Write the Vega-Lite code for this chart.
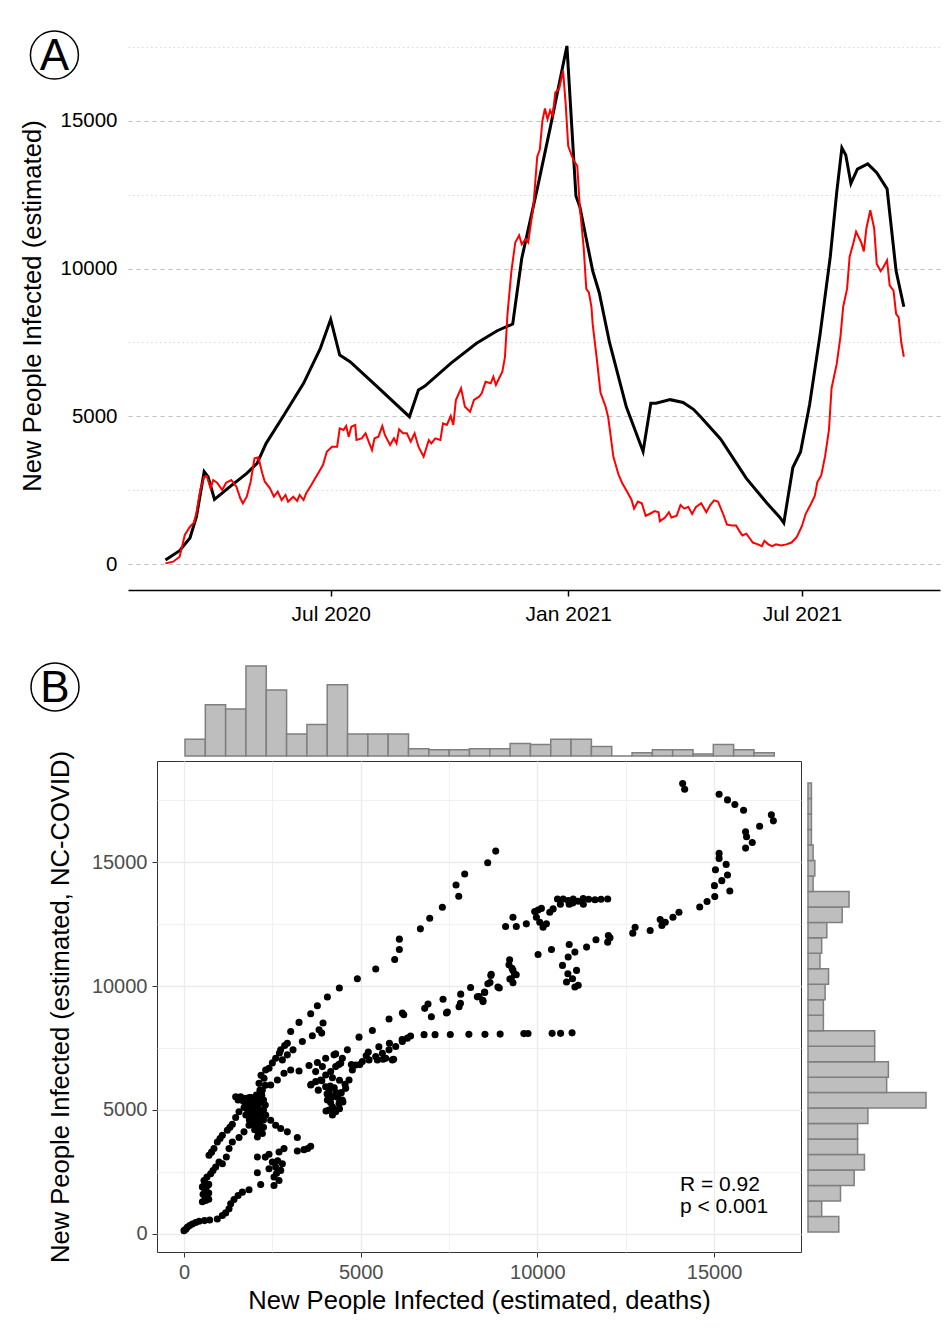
{
"$schema": "https://vega.github.io/schema/vega-lite/v6.json",
"background": "white",
"padding": {"left": 20, "top": 21, "right": 2, "bottom": 5},
"config": {
  "font": "Liberation Sans",
  "view": {"stroke": null},
  "axis": {"labelFont": "Liberation Sans", "titleFont": "Liberation Sans", "titleFontWeight": "normal"}
},
"datasets": {
"nc_ts": [
{"date":"2020-02-24","value":135},{"date":"2020-03-06","value":450},{"date":"2020-03-14","value":880},{"date":"2020-03-19","value":1600},{"date":"2020-03-25","value":3125},{"date":"2020-03-28","value":2955},{"date":"2020-04-02","value":2190},{"date":"2020-04-14","value":2617},{"date":"2020-04-27","value":3070},{"date":"2020-05-05","value":3410},{"date":"2020-05-12","value":4085},{"date":"2020-05-25","value":4986},{"date":"2020-06-10","value":6117},{"date":"2020-06-23","value":7300},{"date":"2020-07-01","value":8283},{"date":"2020-07-08","value":7075},{"date":"2020-07-16","value":6848},{"date":"2020-08-06","value":6002},{"date":"2020-08-31","value":4986},{"date":"2020-09-07","value":5890},{"date":"2020-09-12","value":6025},{"date":"2020-10-02","value":6794},{"date":"2020-10-22","value":7471},{"date":"2020-11-07","value":7897},{"date":"2020-11-19","value":8124},{"date":"2020-11-26","value":10340},{"date":"2020-12-08","value":12700},{"date":"2020-12-18","value":14755},{"date":"2020-12-31","value":17536},{"date":"2021-01-07","value":12457},{"date":"2021-01-10","value":12094},{"date":"2021-01-20","value":9917},{"date":"2021-01-25","value":9191},{"date":"2021-02-02","value":7498},{"date":"2021-02-15","value":5321},{"date":"2021-02-28","value":3810},{"date":"2021-03-06","value":5442},{"date":"2021-03-10","value":5442},{"date":"2021-03-21","value":5563},{"date":"2021-03-31","value":5466},{"date":"2021-04-08","value":5236},{"date":"2021-04-13","value":5010},{"date":"2021-04-29","value":4235},{"date":"2021-05-19","value":2900},{"date":"2021-06-04","value":2056},{"date":"2021-06-14","value":1576},{"date":"2021-06-17","value":1391},{"date":"2021-06-24","value":3265},{"date":"2021-06-30","value":3800},{"date":"2021-07-07","value":5400},{"date":"2021-07-15","value":7740},{"date":"2021-07-23","value":10401},{"date":"2021-07-28","value":12578},{"date":"2021-08-01","value":14089},{"date":"2021-08-04","value":13848},{"date":"2021-08-08","value":12880},{"date":"2021-08-13","value":13364},{"date":"2021-08-21","value":13545},{"date":"2021-08-28","value":13243},{"date":"2021-09-05","value":12699},{"date":"2021-09-12","value":9917},{"date":"2021-09-18","value":8708}
],
"deaths_ts": [
{"date":"2020-02-24","value":22},{"date":"2020-03-01","value":79},{"date":"2020-03-06","value":248},{"date":"2020-03-10","value":982},{"date":"2020-03-14","value":1263},{"date":"2020-03-17","value":1398},{"date":"2020-03-19","value":1715},{"date":"2020-03-22","value":2505},{"date":"2020-03-25","value":2955},{"date":"2020-03-27","value":2979},{"date":"2020-03-30","value":2562},{"date":"2020-04-01","value":2843},{"date":"2020-04-04","value":2753},{"date":"2020-04-08","value":2505},{"date":"2020-04-11","value":2753},{"date":"2020-04-15","value":2843},{"date":"2020-04-19","value":2617},{"date":"2020-04-22","value":2223},{"date":"2020-04-24","value":2054},{"date":"2020-04-27","value":2279},{"date":"2020-04-30","value":2786},{"date":"2020-05-03","value":3578},{"date":"2020-05-06","value":3612},{"date":"2020-05-09","value":3070},{"date":"2020-05-11","value":2786},{"date":"2020-05-15","value":2562},{"date":"2020-05-18","value":2279},{"date":"2020-05-21","value":2448},{"date":"2020-05-24","value":2166},{"date":"2020-05-27","value":2336},{"date":"2020-05-29","value":2110},{"date":"2020-06-02","value":2279},{"date":"2020-06-05","value":2133},{"date":"2020-06-07","value":2336},{"date":"2020-06-10","value":2166},{"date":"2020-06-12","value":2393},{"date":"2020-06-16","value":2674},{"date":"2020-06-19","value":2900},{"date":"2020-06-22","value":3125},{"date":"2020-06-25","value":3351},{"date":"2020-06-28","value":3801},{"date":"2020-07-02","value":3971},{"date":"2020-07-06","value":3971},{"date":"2020-07-08","value":4593},{"date":"2020-07-11","value":4536},{"date":"2020-07-13","value":4671},{"date":"2020-07-15","value":4310},{"date":"2020-07-17","value":4649},{"date":"2020-07-20","value":4705},{"date":"2020-07-21","value":4197},{"date":"2020-07-25","value":4254},{"date":"2020-07-28","value":4424},{"date":"2020-07-30","value":4197},{"date":"2020-08-02","value":3859},{"date":"2020-08-04","value":4254},{"date":"2020-08-07","value":4310},{"date":"2020-08-10","value":4671},{"date":"2020-08-12","value":4367},{"date":"2020-08-16","value":4028},{"date":"2020-08-19","value":4254},{"date":"2020-08-21","value":4085},{"date":"2020-08-23","value":4559},{"date":"2020-08-26","value":4424},{"date":"2020-08-29","value":4424},{"date":"2020-09-01","value":4140},{"date":"2020-09-04","value":4424},{"date":"2020-09-07","value":3971},{"date":"2020-09-11","value":3632},{"date":"2020-09-15","value":4197},{"date":"2020-09-17","value":4085},{"date":"2020-09-20","value":4254},{"date":"2020-09-24","value":4197},{"date":"2020-09-26","value":4762},{"date":"2020-09-29","value":4705},{"date":"2020-10-02","value":5010},{"date":"2020-10-04","value":4705},{"date":"2020-10-06","value":5551},{"date":"2020-10-10","value":5947},{"date":"2020-10-13","value":5325},{"date":"2020-10-17","value":5155},{"date":"2020-10-20","value":5551},{"date":"2020-10-24","value":5663},{"date":"2020-10-26","value":5778},{"date":"2020-10-29","value":6171},{"date":"2020-11-02","value":6117},{"date":"2020-11-04","value":6340},{"date":"2020-11-06","value":6059},{"date":"2020-11-09","value":6340},{"date":"2020-11-11","value":6509},{"date":"2020-11-13","value":7000},{"date":"2020-11-15","value":8486},{"date":"2020-11-18","value":9917},{"date":"2020-11-21","value":10885},{"date":"2020-11-24","value":11127},{"date":"2020-11-26","value":10824},{"date":"2020-11-29","value":11006},{"date":"2020-12-01","value":10885},{"date":"2020-12-05","value":12094},{"date":"2020-12-08","value":13787},{"date":"2020-12-10","value":14029},{"date":"2020-12-12","value":14997},{"date":"2020-12-14","value":15420},{"date":"2020-12-16","value":15057},{"date":"2020-12-18","value":15360},{"date":"2020-12-20","value":15178},{"date":"2020-12-22","value":15964},{"date":"2020-12-25","value":16085},{"date":"2020-12-28","value":16700},{"date":"2020-12-30","value":15600},{"date":"2021-01-01","value":14150},{"date":"2021-01-04","value":13787},{"date":"2021-01-06","value":13606},{"date":"2021-01-08","value":13480},{"date":"2021-01-10","value":12094},{"date":"2021-01-13","value":10700},{"date":"2021-01-15","value":9312},{"date":"2021-01-17","value":9191},{"date":"2021-01-19","value":8708},{"date":"2021-01-20","value":8103},{"date":"2021-01-23","value":7000},{"date":"2021-01-26","value":5805},{"date":"2021-01-30","value":5321},{"date":"2021-02-01","value":4959},{"date":"2021-02-05","value":3628},{"date":"2021-02-09","value":3024},{"date":"2021-02-12","value":2721},{"date":"2021-02-16","value":2419},{"date":"2021-02-19","value":2177},{"date":"2021-02-21","value":1875},{"date":"2021-02-24","value":2116},{"date":"2021-02-27","value":2056},{"date":"2021-03-02","value":1633},{"date":"2021-03-05","value":1693},{"date":"2021-03-09","value":1790},{"date":"2021-03-12","value":1754},{"date":"2021-03-13","value":1451},{"date":"2021-03-17","value":1572},{"date":"2021-03-20","value":1754},{"date":"2021-03-22","value":1572},{"date":"2021-03-26","value":1633},{"date":"2021-03-29","value":1996},{"date":"2021-04-01","value":1875},{"date":"2021-04-04","value":1935},{"date":"2021-04-07","value":1693},{"date":"2021-04-10","value":1935},{"date":"2021-04-14","value":2056},{"date":"2021-04-18","value":1754},{"date":"2021-04-21","value":1996},{"date":"2021-04-24","value":2153},{"date":"2021-04-27","value":2116},{"date":"2021-05-01","value":1693},{"date":"2021-05-04","value":1330},{"date":"2021-05-08","value":1306},{"date":"2021-05-11","value":1306},{"date":"2021-05-14","value":1088},{"date":"2021-05-16","value":968},{"date":"2021-05-19","value":1028},{"date":"2021-05-22","value":847},{"date":"2021-05-24","value":726},{"date":"2021-05-28","value":665},{"date":"2021-05-31","value":605},{"date":"2021-06-02","value":786},{"date":"2021-06-05","value":665},{"date":"2021-06-08","value":605},{"date":"2021-06-11","value":665},{"date":"2021-06-15","value":629},{"date":"2021-06-19","value":665},{"date":"2021-06-23","value":726},{"date":"2021-06-27","value":907},{"date":"2021-07-01","value":1280},{"date":"2021-07-04","value":1700},{"date":"2021-07-08","value":2030},{"date":"2021-07-11","value":2300},{"date":"2021-07-13","value":2770},{"date":"2021-07-16","value":3000},{"date":"2021-07-19","value":3650},{"date":"2021-07-22","value":4550},{"date":"2021-07-24","value":5950},{"date":"2021-07-28","value":6773},{"date":"2021-07-31","value":7740},{"date":"2021-08-02","value":8708},{"date":"2021-08-05","value":9312},{"date":"2021-08-07","value":10401},{"date":"2021-08-10","value":10885},{"date":"2021-08-12","value":11248},{"date":"2021-08-14","value":11066},{"date":"2021-08-16","value":10885},{"date":"2021-08-18","value":10582},{"date":"2021-08-20","value":11368},{"date":"2021-08-23","value":11973},{"date":"2021-08-26","value":11368},{"date":"2021-08-28","value":10159},{"date":"2021-08-31","value":9917},{"date":"2021-09-02","value":10038},{"date":"2021-09-05","value":10280},{"date":"2021-09-07","value":9433},{"date":"2021-09-10","value":9252},{"date":"2021-09-12","value":8466},{"date":"2021-09-14","value":8345},{"date":"2021-09-16","value":7498},{"date":"2021-09-18","value":7014}
],
"pts": [
{"deaths":0,"nccovid":135},{"deaths":50,"nccovid":190},{"deaths":94,"nccovid":270},{"deaths":160,"nccovid":340},{"deaths":236,"nccovid":405},{"deaths":330,"nccovid":460},{"deaths":425,"nccovid":513},{"deaths":580,"nccovid":540},{"deaths":726,"nccovid":567},{"deaths":943,"nccovid":608},{"deaths":1085,"nccovid":743},{"deaths":1179,"nccovid":851},{"deaths":1274,"nccovid":1013},{"deaths":1321,"nccovid":1215},{"deaths":1415,"nccovid":1391},{"deaths":1530,"nccovid":1550},{"deaths":1651,"nccovid":1688},{"deaths":1840,"nccovid":1782},{"deaths":2170,"nccovid":1998},{"deaths":2075,"nccovid":2471},
{"deaths":613,"nccovid":1350},{"deaths":600,"nccovid":1450},{"deaths":613,"nccovid":1553},{"deaths":594,"nccovid":1755},{"deaths":620,"nccovid":1850},{"deaths":660,"nccovid":1958},{"deaths":566,"nccovid":2160},{"deaths":650,"nccovid":2300},{"deaths":755,"nccovid":2430},{"deaths":820,"nccovid":2560},{"deaths":896,"nccovid":2700},{"deaths":991,"nccovid":2903},{"deaths":708,"nccovid":3173},{"deaths":780,"nccovid":3300},{"deaths":849,"nccovid":3443},{"deaths":943,"nccovid":3713},{"deaths":1020,"nccovid":3850},{"deaths":1085,"nccovid":3983},{"deaths":1226,"nccovid":4185},{"deaths":1300,"nccovid":4300},{"deaths":1368,"nccovid":4428},{"deaths":1462,"nccovid":4698},{"deaths":1557,"nccovid":4928},{"deaths":1085,"nccovid":2835},{"deaths":1198,"nccovid":3105},{"deaths":1274,"nccovid":3443},{"deaths":1368,"nccovid":3713},{"deaths":1557,"nccovid":3888},{"deaths":1698,"nccovid":4118},{"deaths":1840,"nccovid":4388},{"deaths":1981,"nccovid":4590},{"deaths":1462,"nccovid":5535},{"deaths":1604,"nccovid":5535},{"deaths":1745,"nccovid":5468},{"deaths":1530,"nccovid":5400},{"deaths":1680,"nccovid":5350},
{"deaths":520,"nccovid":1300},{"deaths":700,"nccovid":1400},{"deaths":540,"nccovid":1600},{"deaths":700,"nccovid":1650},{"deaths":520,"nccovid":1900},{"deaths":700,"nccovid":2000},{"deaths":600,"nccovid":2050},
{"deaths":1840,"nccovid":5265},{"deaths":2028,"nccovid":5265},{"deaths":2123,"nccovid":5400},{"deaths":1934,"nccovid":4860},{"deaths":2075,"nccovid":4725},{"deaths":1887,"nccovid":5130},{"deaths":2170,"nccovid":4995},{"deaths":1981,"nccovid":4995},{"deaths":2217,"nccovid":5805},{"deaths":2123,"nccovid":6075},{"deaths":2264,"nccovid":6278},{"deaths":2311,"nccovid":6615},{"deaths":2406,"nccovid":6683},{"deaths":2123,"nccovid":4320},{"deaths":2217,"nccovid":4050},{"deaths":2075,"nccovid":3915},{"deaths":2311,"nccovid":4793},{"deaths":1900,"nccovid":4700},{"deaths":2000,"nccovid":5100},{"deaths":2100,"nccovid":5200},{"deaths":2200,"nccovid":5600},{"deaths":1800,"nccovid":5000},{"deaths":2050,"nccovid":5600},{"deaths":2150,"nccovid":5800},{"deaths":2250,"nccovid":5000},{"deaths":1950,"nccovid":5400},{"deaths":2000,"nccovid":4400},{"deaths":2150,"nccovid":4500},{"deaths":2250,"nccovid":4300},{"deaths":1750,"nccovid":4800},{"deaths":2180,"nccovid":6400},{"deaths":2300,"nccovid":6000},{"deaths":2200,"nccovid":4800},{"deaths":1900,"nccovid":5500},{"deaths":2100,"nccovid":4900},
{"deaths":1700,"nccovid":5100},{"deaths":1750,"nccovid":5300},{"deaths":1850,"nccovid":5500},{"deaths":1950,"nccovid":5200},{"deaths":2050,"nccovid":4600},{"deaths":2150,"nccovid":5300},{"deaths":2250,"nccovid":5400},{"deaths":2300,"nccovid":5200},{"deaths":1850,"nccovid":4600},{"deaths":2000,"nccovid":4200},{"deaths":2100,"nccovid":4100},{"deaths":1800,"nccovid":5400},{"deaths":2250,"nccovid":4600},{"deaths":2050,"nccovid":5000},{"deaths":1950,"nccovid":4500},
{"deaths":2453,"nccovid":4590},{"deaths":2594,"nccovid":4388},{"deaths":2736,"nccovid":4253},{"deaths":2924,"nccovid":4118},{"deaths":3207,"nccovid":3888},
{"deaths":2075,"nccovid":3105},{"deaths":2406,"nccovid":3213},{"deaths":2689,"nccovid":3308},{"deaths":2830,"nccovid":3443},{"deaths":3207,"nccovid":3348},{"deaths":3396,"nccovid":3402},{"deaths":3585,"nccovid":3537},{"deaths":3500,"nccovid":3450},{"deaths":2500,"nccovid":2903},{"deaths":2594,"nccovid":2700},{"deaths":2736,"nccovid":2565},{"deaths":2783,"nccovid":2835},{"deaths":2406,"nccovid":2633},{"deaths":2547,"nccovid":2295},{"deaths":2689,"nccovid":2160},{"deaths":2547,"nccovid":1958},{"deaths":2300,"nccovid":3100},{"deaths":2650,"nccovid":2950},{"deaths":2620,"nccovid":2450},
{"deaths":2594,"nccovid":7088},{"deaths":2736,"nccovid":7425},{"deaths":2924,"nccovid":7695},{"deaths":3019,"nccovid":8168},{"deaths":3255,"nccovid":8532},{"deaths":3585,"nccovid":8883},{"deaths":3774,"nccovid":9207},{"deaths":3085,"nccovid":7425},{"deaths":3349,"nccovid":7763},{"deaths":3632,"nccovid":7992},{"deaths":3821,"nccovid":8235},{"deaths":3934,"nccovid":8505},{"deaths":3896,"nccovid":8100},{"deaths":2783,"nccovid":7020},{"deaths":2924,"nccovid":7223},{"deaths":2500,"nccovid":6900},{"deaths":2700,"nccovid":7300},{"deaths":2850,"nccovid":7600},
{"deaths":4057,"nccovid":9558},{"deaths":4396,"nccovid":9920},{"deaths":4906,"nccovid":10295},{"deaths":5425,"nccovid":10683},{"deaths":5962,"nccovid":11072},{"deaths":6094,"nccovid":11474},{"deaths":6094,"nccovid":11889},{"deaths":6689,"nccovid":12305},{"deaths":6953,"nccovid":12734},{"deaths":7311,"nccovid":13176},{"deaths":7774,"nccovid":13618},{"deaths":7698,"nccovid":14074},{"deaths":7943,"nccovid":14516},{"deaths":8594,"nccovid":14971},{"deaths":8821,"nccovid":15440},
{"deaths":2453,"nccovid":6008},{"deaths":2642,"nccovid":6210},{"deaths":2830,"nccovid":6480},{"deaths":3019,"nccovid":6615},{"deaths":3255,"nccovid":6575},{"deaths":3538,"nccovid":6791},{"deaths":3774,"nccovid":6912},{"deaths":4009,"nccovid":7088},{"deaths":4292,"nccovid":7263},{"deaths":4623,"nccovid":7425},{"deaths":4953,"nccovid":7938},{"deaths":5330,"nccovid":8208},{"deaths":5802,"nccovid":8667},{"deaths":6179,"nccovid":8910},
{"deaths":6811,"nccovid":9098},{"deaths":6905,"nccovid":9276},{"deaths":7000,"nccovid":8757},{"deaths":7330,"nccovid":9467},{"deaths":7453,"nccovid":8948},{"deaths":7783,"nccovid":9167},{"deaths":7830,"nccovid":9672},{"deaths":8349,"nccovid":9576},{"deaths":8462,"nccovid":9371},{"deaths":8509,"nccovid":9740},{"deaths":8109,"nccovid":9937},{"deaths":8300,"nccovid":9563},{"deaths":8659,"nccovid":10138},{"deaths":8683,"nccovid":10426},{"deaths":8922,"nccovid":9922},{"deaths":9221,"nccovid":10282},{"deaths":9281,"nccovid":10713},{"deaths":9401,"nccovid":10454},{"deaths":6219,"nccovid":8844},{"deaths":7427,"nccovid":8916},{"deaths":7822,"nccovid":9304},
{"deaths":9214,"nccovid":11059},{"deaths":9195,"nccovid":10858},{"deaths":9309,"nccovid":10630},{"deaths":9356,"nccovid":10469},{"deaths":9261,"nccovid":10295},{"deaths":9309,"nccovid":10134},{"deaths":8883,"nccovid":9960},{"deaths":8693,"nccovid":10469},{"deaths":8598,"nccovid":10094},{"deaths":8504,"nccovid":9759},{"deaths":8456,"nccovid":9424},
{"deaths":10019,"nccovid":11273},{"deaths":10398,"nccovid":11474},{"deaths":10710,"nccovid":10831},{"deaths":10862,"nccovid":10496},{"deaths":10824,"nccovid":10161},{"deaths":10994,"nccovid":10295},{"deaths":11108,"nccovid":10630},{"deaths":11061,"nccovid":9960},{"deaths":11155,"nccovid":10027},{"deaths":10871,"nccovid":11166},{"deaths":10900,"nccovid":11675},{"deaths":11061,"nccovid":11367},{"deaths":11392,"nccovid":11568},{"deaths":11657,"nccovid":11863},{"deaths":11989,"nccovid":11769},{"deaths":12055,"nccovid":11943},{"deaths":12008,"nccovid":12037},{"deaths":12699,"nccovid":12131},{"deaths":12765,"nccovid":12372},{"deaths":13191,"nccovid":12238},{"deaths":13523,"nccovid":12439},{"deaths":13475,"nccovid":12680},{"deaths":13618,"nccovid":12573},{"deaths":13835,"nccovid":12774},{"deaths":14006,"nccovid":12975},{"deaths":14593,"nccovid":13189},{"deaths":14801,"nccovid":13404},{"deaths":15019,"nccovid":13605},{"deaths":15445,"nccovid":13832},{"deaths":15010,"nccovid":14047},{"deaths":15218,"nccovid":14248},{"deaths":15379,"nccovid":14476},{"deaths":15038,"nccovid":14690},{"deaths":15341,"nccovid":14904},{"deaths":15142,"nccovid":15146},{"deaths":15142,"nccovid":15347},{"deaths":15891,"nccovid":15561},{"deaths":16080,"nccovid":15789},{"deaths":15919,"nccovid":16017},{"deaths":15891,"nccovid":16218},{"deaths":16288,"nccovid":16445},{"deaths":16677,"nccovid":16660},{"deaths":16620,"nccovid":16901},{"deaths":15834,"nccovid":17089},{"deaths":15588,"nccovid":17316},{"deaths":15379,"nccovid":17504},{"deaths":15142,"nccovid":17732},{"deaths":14167,"nccovid":17933},{"deaths":14110,"nccovid":18161},
{"deaths":10568,"nccovid":13511},{"deaths":10729,"nccovid":13511},{"deaths":10871,"nccovid":13450},{"deaths":11013,"nccovid":13511},{"deaths":11155,"nccovid":13420},{"deaths":11297,"nccovid":13530},{"deaths":11450,"nccovid":13500},{"deaths":11629,"nccovid":13480},{"deaths":11800,"nccovid":13500},{"deaths":11989,"nccovid":13511},{"deaths":10650,"nccovid":13300},{"deaths":10900,"nccovid":13300},{"deaths":11000,"nccovid":13350},{"deaths":11300,"nccovid":13300},
{"deaths":9924,"nccovid":13000},{"deaths":10019,"nccovid":13060},{"deaths":10113,"nccovid":13130},{"deaths":9971,"nccovid":12774},{"deaths":10066,"nccovid":12573},{"deaths":10255,"nccovid":12506},{"deaths":10161,"nccovid":12372},{"deaths":10350,"nccovid":12975},{"deaths":10445,"nccovid":13109},{"deaths":9309,"nccovid":12774},{"deaths":9403,"nccovid":12399},{"deaths":9100,"nccovid":12399},{"deaths":9687,"nccovid":12506},
{"deaths":6793,"nccovid":8038},{"deaths":7104,"nccovid":8038},{"deaths":7535,"nccovid":8045},{"deaths":8061,"nccovid":8050},{"deaths":8516,"nccovid":8050},{"deaths":8946,"nccovid":8060},{"deaths":9616,"nccovid":8080},{"deaths":9735,"nccovid":8085},{"deaths":10417,"nccovid":8090},{"deaths":10656,"nccovid":8090},{"deaths":10981,"nccovid":8110},
{"deaths":6411,"nccovid":7981},{"deaths":6172,"nccovid":7837},{"deaths":5813,"nccovid":7693},{"deaths":5514,"nccovid":7550},{"deaths":5215,"nccovid":7334},{"deaths":4975,"nccovid":6831},{"deaths":5155,"nccovid":7190},{"deaths":5633,"nccovid":7046},{"deaths":5932,"nccovid":7046},{"deaths":6321,"nccovid":7898},{"deaths":6179,"nccovid":7763},{"deaths":5991,"nccovid":7560},{"deaths":5802,"nccovid":7425},{"deaths":5613,"nccovid":7290},{"deaths":5425,"nccovid":7155},{"deaths":5236,"nccovid":7020},{"deaths":5047,"nccovid":6953},{"deaths":4859,"nccovid":6818},{"deaths":4764,"nccovid":6615},{"deaths":4670,"nccovid":6210},{"deaths":4575,"nccovid":5873},{"deaths":5472,"nccovid":7020},{"deaths":5708,"nccovid":7088},{"deaths":5896,"nccovid":7020},
{"deaths":3585,"nccovid":6008},{"deaths":3726,"nccovid":6143},{"deaths":3868,"nccovid":6210},{"deaths":4009,"nccovid":6413},{"deaths":4151,"nccovid":6548},{"deaths":4292,"nccovid":6750},{"deaths":4434,"nccovid":6885},{"deaths":4245,"nccovid":7223},{"deaths":4481,"nccovid":7088},{"deaths":4009,"nccovid":5940},{"deaths":4104,"nccovid":5738},{"deaths":4198,"nccovid":5535},{"deaths":4057,"nccovid":5400},{"deaths":4198,"nccovid":5130},{"deaths":4387,"nccovid":5265},{"deaths":4481,"nccovid":5400},{"deaths":4104,"nccovid":4995},{"deaths":4292,"nccovid":4928},{"deaths":3726,"nccovid":6548},{"deaths":3915,"nccovid":6750},{"deaths":3600,"nccovid":6040},{"deaths":3899,"nccovid":6184},{"deaths":4138,"nccovid":5968},{"deaths":4258,"nccovid":5033},{"deaths":4019,"nccovid":4961},{"deaths":4497,"nccovid":5321},{"deaths":4557,"nccovid":6040},{"deaths":4377,"nccovid":6831},{"deaths":4736,"nccovid":6831},{"deaths":4300,"nccovid":5700},{"deaths":4400,"nccovid":6200},{"deaths":3800,"nccovid":5800},{"deaths":4200,"nccovid":6300},
{"deaths":4150,"nccovid":5300},{"deaths":4350,"nccovid":5500},{"deaths":4450,"nccovid":5700},{"deaths":4250,"nccovid":5900},{"deaths":4050,"nccovid":5650},{"deaths":4400,"nccovid":5050},{"deaths":4200,"nccovid":4800}
],
"histx": [
{"b0":28,"b1":603,"n":16},{"b0":603,"b1":1178,"n":49},{"b0":1178,"b1":1753,"n":45},{"b0":1753,"b1":2328,"n":86},{"b0":2328,"b1":2903,"n":63},{"b0":2903,"b1":3478,"n":21},{"b0":3478,"b1":4053,"n":30},{"b0":4053,"b1":4628,"n":68},{"b0":4628,"b1":5203,"n":21},{"b0":5203,"b1":5778,"n":21},{"b0":5778,"b1":6353,"n":21},{"b0":6353,"b1":6928,"n":7},{"b0":6928,"b1":7503,"n":6},{"b0":7503,"b1":8078,"n":6},{"b0":8078,"b1":8653,"n":7},{"b0":8653,"b1":9228,"n":7},{"b0":9228,"b1":9803,"n":12},{"b0":9803,"b1":10378,"n":11},{"b0":10378,"b1":10953,"n":16},{"b0":10953,"b1":11528,"n":16},{"b0":11528,"b1":12103,"n":9},{"b0":12103,"b1":12678,"n":0},{"b0":12678,"b1":13253,"n":3},{"b0":13253,"b1":13828,"n":6},{"b0":13828,"b1":14403,"n":6},{"b0":14403,"b1":14978,"n":2},{"b0":14978,"b1":15553,"n":11},{"b0":15553,"b1":16128,"n":6},{"b0":16128,"b1":16703,"n":3}
],
"histy": [
{"b0":85,"b1":709,"n":18},{"b0":709,"b1":1333,"n":8},{"b0":1333,"b1":1957,"n":19},{"b0":1957,"b1":2581,"n":27},{"b0":2581,"b1":3205,"n":33},{"b0":3205,"b1":3829,"n":29},{"b0":3829,"b1":4453,"n":29},{"b0":4453,"b1":5077,"n":35},{"b0":5077,"b1":5701,"n":69},{"b0":5701,"b1":6325,"n":46},{"b0":6325,"b1":6949,"n":47},{"b0":6949,"b1":7573,"n":39},{"b0":7573,"b1":8197,"n":39},{"b0":8197,"b1":8821,"n":9},{"b0":8821,"b1":9445,"n":9},{"b0":9445,"b1":10069,"n":10},{"b0":10069,"b1":10693,"n":12},{"b0":10693,"b1":11317,"n":7},{"b0":11317,"b1":11941,"n":8},{"b0":11941,"b1":12565,"n":11},{"b0":12565,"b1":13189,"n":20},{"b0":13189,"b1":13813,"n":24},{"b0":13813,"b1":14437,"n":3},{"b0":14437,"b1":15061,"n":4},{"b0":15061,"b1":15685,"n":3},{"b0":15685,"b1":16309,"n":2},{"b0":16309,"b1":16933,"n":2},{"b0":16933,"b1":17557,"n":2},{"b0":17557,"b1":18181,"n":2}
]
},
"spacing": 35,
"vconcat": [
{
  "width": 812,
  "height": 569,
  "layer": [
    {
      "data": {"name": "nc_ts"},
      "mark": {"type": "line", "color": "#000000", "strokeWidth": 3},
      "encoding": {
        "x": {"field": "date", "type": "temporal",
          "scale": {"type": "utc", "domain": [{"year": 2020, "month": 1, "date": 26, "utc": true}, {"year": 2021, "month": 10, "date": 16, "utc": true}]},
          "axis": {"title": null, "values": [{"year": 2020, "month": 7, "date": 1, "utc": true}, {"year": 2021, "month": 1, "date": 1, "utc": true}, {"year": 2021, "month": 7, "date": 1, "utc": true}],
            "format": "%b %Y", "grid": false, "domainColor": "#000000", "domainWidth": 1.5, "tickColor": "#000000", "tickWidth": 1.5, "tickSize": 6,
            "labelFontSize": 21, "labelColor": "#000000", "labelPadding": 7}},
        "y": {"field": "value", "type": "quantitative",
          "scale": {"domain": [-880, 18381], "nice": false, "zero": false},
          "axis": {"title": "New People Infected (estimated)", "values": [0, 2500, 5000, 7500, 10000, 12500, 15000, 17500], "format": "d",
            "labelExpr": "datum.value % 5000 === 0 ? datum.label : ''", "ticks": false, "domain": false, "labelPadding": 11,
            "labelFontSize": 20.5, "labelColor": "#000000", "titleFontSize": 25.6, "titleColor": "#000000", "titlePadding": 14,
            "grid": true, "gridWidth": 1,
            "gridColor": {"condition": {"test": "datum.value % 5000 === 0", "value": "#BEBEBE"}, "value": "#D9D9D9"},
            "gridDash": {"condition": {"test": "datum.value % 5000 === 0", "value": [4, 4]}, "value": [1.5, 3]}}}
      }
    },
    {
      "data": {"name": "deaths_ts"},
      "mark": {"type": "line", "color": "#FF0000", "strokeWidth": 2},
      "encoding": {"x": {"field": "date", "type": "temporal"}, "y": {"field": "value", "type": "quantitative"}}
    },
    {
      "data": {"values": [{"date": "2019-11-30", "value": 17230}]},
      "mark": {"type": "point", "shape": "circle", "filled": false, "size": 2304, "color": "#000000", "strokeWidth": 1.5, "opacity": 1, "clip": false},
      "encoding": {"x": {"field": "date", "type": "temporal"}, "y": {"field": "value", "type": "quantitative"}}
    },
    {
      "data": {"values": [{"date": "2019-11-30", "value": 17230, "label": "A"}]},
      "mark": {"type": "text", "font": "Liberation Sans Narrow, Liberation Sans", "fontSize": 44, "color": "#000000", "align": "center", "baseline": "middle", "dy": 2, "clip": false},
      "encoding": {"x": {"field": "date", "type": "temporal"}, "y": {"field": "value", "type": "quantitative"}, "text": {"field": "label"}}
    }
  ]
},
{
  "spacing": -101,
  "hconcat": [
    {
      "width": 1,
      "height": 1,
      "data": {"values": [{"k": 1}]},
      "mark": {"type": "point", "size": 0, "opacity": 0},
      "encoding": {}
    },
    {
      "columns": 2,
      "spacing": {"row": -8, "column": 5},
      "concat": [
        {
          "width": 644,
          "height": 90,
          "layer": [
            {
              "data": {"name": "histx"},
              "mark": {"type": "rect", "fill": "#BEBEBE", "stroke": "#7F7F7F", "strokeWidth": 1.5},
              "encoding": {
                "x": {"field": "b0", "type": "quantitative", "scale": {"domain": [-764, 17459], "nice": false, "zero": false}, "axis": null},
                "x2": {"field": "b1"},
                "y": {"field": "n", "type": "quantitative", "scale": {"domain": [0, 86], "nice": false}, "axis": null},
                "y2": {"datum": 0}
              }
            },
            {
              "data": {"values": [{"b0": -3650, "n": 66}]},
              "mark": {"type": "point", "shape": "circle", "filled": false, "size": 2304, "color": "#000000", "strokeWidth": 1.5, "opacity": 1, "clip": false},
              "encoding": {"x": {"field": "b0", "type": "quantitative"}, "y": {"field": "n", "type": "quantitative"}}
            },
            {
              "data": {"values": [{"b0": -3650, "n": 66, "label": "B"}]},
              "mark": {"type": "text", "font": "Liberation Sans Narrow, Liberation Sans", "fontSize": 44, "color": "#000000", "align": "center", "baseline": "middle", "dy": 2, "clip": false},
              "encoding": {"x": {"field": "b0", "type": "quantitative"}, "y": {"field": "n", "type": "quantitative"}, "text": {"field": "label"}}
            }
          ]
        },
        {
          "width": 1,
          "height": 1,
          "data": {"values": [{"k": 1}]},
          "mark": {"type": "point", "size": 0, "opacity": 0},
          "encoding": {}
        },
        {
          "width": 644,
          "height": 491,
          "view": {"stroke": "#333333", "strokeWidth": 1},
          "layer": [
            {
              "data": {"name": "pts"},
              "mark": {"type": "circle", "size": 50, "color": "#000000", "opacity": 1},
              "encoding": {
                "x": {"field": "deaths", "type": "quantitative",
                  "scale": {"domain": [-764, 17459], "nice": false, "zero": false},
                  "axis": {"title": "New People Infected (estimated, deaths)", "values": [0, 2500, 5000, 7500, 10000, 12500, 15000], "format": "d",
                    "labelExpr": "datum.value % 5000 === 0 ? datum.label : ''", "domain": false,
                    "tickColor": "#333333", "tickSize": 5, "tickWidth": 1,
                    "tickOpacity": {"condition": {"test": "datum.value % 5000 === 0", "value": 1}, "value": 0},
                    "labelFontSize": 20, "labelColor": "#4D4D4D", "labelPadding": 5,
                    "titleFontSize": 25.6, "titleColor": "#000000", "titlePadding": 6,
                    "grid": true, "gridColor": "#EBEBEB",
                    "gridWidth": {"condition": {"test": "datum.value % 5000 === 0", "value": 1.3}, "value": 0.7}}},
                "y": {"field": "nccovid", "type": "quantitative",
                  "scale": {"domain": [-726, 19073], "nice": false, "zero": false},
                  "axis": {"title": "New People Infected (estimated, NC-COVID)", "values": [0, 2500, 5000, 7500, 10000, 12500, 15000, 17500], "format": "d",
                    "labelExpr": "datum.value % 5000 === 0 ? datum.label : ''", "domain": false,
                    "tickColor": "#333333", "tickSize": 5, "tickWidth": 1,
                    "tickOpacity": {"condition": {"test": "datum.value % 5000 === 0", "value": 1}, "value": 0},
                    "labelFontSize": 20, "labelColor": "#4D4D4D", "labelPadding": 5,
                    "titleFontSize": 25.6, "titleColor": "#000000", "titlePadding": 18,
                    "grid": true, "gridColor": "#EBEBEB",
                    "gridWidth": {"condition": {"test": "datum.value % 5000 === 0", "value": 1.3}, "value": 0.7}}}
              }
            },
            {
              "data": {"values": [{"deaths": 14035, "nccovid": 1976, "label": "R = 0.92"}, {"deaths": 14035, "nccovid": 1089, "label": "p < 0.001"}]},
              "mark": {"type": "text", "fontSize": 21, "align": "left", "baseline": "middle", "color": "#000000"},
              "encoding": {"x": {"field": "deaths", "type": "quantitative"}, "y": {"field": "nccovid", "type": "quantitative"}, "text": {"field": "label"}}
            }
          ]
        },
        {
          "width": 118,
          "height": 491,
          "data": {"name": "histy"},
          "mark": {"type": "rect", "fill": "#BEBEBE", "stroke": "#7F7F7F", "strokeWidth": 1.5},
          "encoding": {
            "y": {"field": "b0", "type": "quantitative", "scale": {"domain": [-726, 19073], "nice": false, "zero": false}, "axis": null},
            "y2": {"field": "b1"},
            "x": {"field": "n", "type": "quantitative", "scale": {"domain": [0, 69], "nice": false}, "axis": null},
            "x2": {"datum": 0}
          }
        }
      ]
    }
  ]
}
]
}
